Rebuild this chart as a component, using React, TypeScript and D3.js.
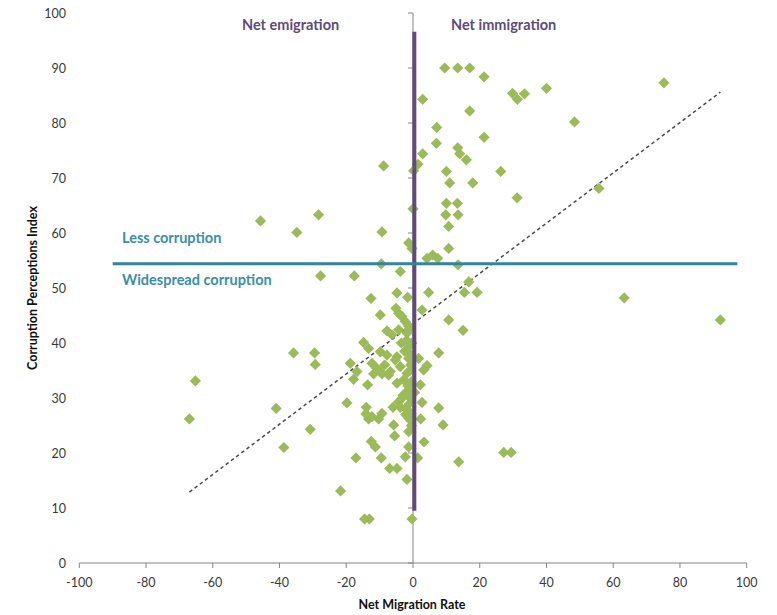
import React from "react";
import * as d3 from "d3";

// Net migration rate (x) and Corruption Perceptions Index (y)
const migration: number[] = [
  9.5, 13.4, 17, 21.3, 2.9, 17, 29.8, 31.3, 33.4, 40, 75.2, 48.4, 7.1, 7, 21.3, 13.4, 14, 16, 2.9, 1.5,
  0.2, 10, 26.3, 11, 17.9, 55.7, 31.2, 10, 13.3, 9.8, 13.5, 10.7, 0, 10.7, 4.2, 5.9, 7.4, 13.5, 16.7, 4.7,
  15.4, 19.2, 2.7, 10.7, 15, 7.7, 4.2, 3.2, 1.7, 2.2, 2.7, 7.7, 2.3, 9, 3.3, 1.4, 13.7, 27.2, 29.4, 63.3,
  92.1,
  -8.8, -9.3, -1.3, -0.3, -3.8, -9.5, -4.8, -1.6, -5.1, -4.3, -3.3, -2.3, -1.3, -1.3,
  -45.7, -28.3, -34.8, -27.7, -17.6, -12.6, -9.8, -35.8, -29.5, -29.3, -65.2, -67, -41, -19.8, -30.8,
  -38.7, -17.1, -21.7, -14.5, -13.1, -0.3,
  -7.8, -6.3, -4.3, -1.8, -14.8, -13.3, -9.8, -7.8, -4.8, -1.3, -1.3, -18.8, -16.8, -12.3, -9.8, -6.8,
  -3.8, -5.3, -1.8, -17.8, -11.8, -9.3, -7.3, -13.6, -4.8, -2.8, -1.3, -14, -12.3, -13.3, -9.3, -10.3,
  -6, -4.3, -2.3, -1.3, -5.8, -5.5, -1.3, -12.5, -11.3, -9.5, -7, -4.8, -2.3, -1.3, -1.8, -14.1, -3.8,
  -0.6, -0.8, -0.5, -0.7, -0.4, -1, 0.5, -0.5, -2.5, -3, -0.9,
  -2, -1.5, -3.2, -2.2, -0.8, -1.9, -3.5, -11, -8.5,
];
const cpi: number[] = [
  90, 90, 90, 88.4, 84.3, 82.2, 85.4, 84.3, 85.3, 86.3, 87.3, 80.2, 79.2, 76.3, 77.4, 75.5, 74.4, 73.3, 74.4, 72.5,
  71.3, 71.2, 71.2, 69.1, 69.1, 68.1, 66.4, 65.4, 65.4, 63.3, 63.3, 61.2, 64.4, 57.2, 55.4, 56, 55.4, 54.2, 51.1, 49.2,
  49.2, 49.2, 46, 44.2, 42.3, 38.2, 35.9, 35.1, 37.2, 32.4, 29.2, 28.2, 26.2, 25.1, 22, 19.1, 18.4, 20.1, 20.1, 48.2,
  44.2,
  72.2, 60.2, 58.2, 57.2, 53, 54.4, 49.1, 48.3, 46.3, 45.4, 44.8, 43.9, 43.1, 42.4,
  62.2, 63.3, 60.1, 52.2, 52.2, 48.1, 45.1, 38.2, 38.2, 36.1, 33.1, 26.2, 28.1, 29.1, 24.3,
  21, 19.1, 13.1, 8, 8, 8,
  42.2, 41.5, 42.4, 41.8, 40.1, 39, 38.4, 37.8, 37.5, 39.3, 37.2, 36.3, 34.8, 36.3, 34.8, 34.8,
  35.7, 36.9, 34.5, 33.4, 34.4, 34.4, 34.2, 32.4, 32.7, 33.3, 31.5, 28.3, 26.6, 26.2, 27.2, 26.2,
  28.3, 29.3, 28.1, 26.3, 25.1, 23.1, 23.9, 22.1, 21.1, 19.1, 17.2, 17.2, 19.3, 21.1, 15.2, 27.1, 28.3,
  27.2, 30, 33, 36, 40, 29, 31, 25, 38.5, 30.5, 35,
  31, 32.2, 30, 27, 38, 40.5, 40, 35.5, 36,
];

const xTicks: number[] = [-100, -80, -60, -40, -20, 0, 20, 40, 60, 80, 100];
const yTicks: number[] = [0, 10, 20, 30, 40, 50, 60, 70, 80, 90, 100];

// Linear trendline endpoints (span of the data)
const trendX: number[] = [-67, 92.1];
const trendY: number[] = [12.9, 85.6];

// Reference lines
const migrationDivider = { x: 0.4, y0: 9.5, y1: 96.6 };
const corruptionDivider = { y: 54.4, x0: -90, x1: 97.2 };

const W = 777;
const H = 615;

export default function App() {
  const x = d3.scaleLinear().domain([-100, 100]).range([79.3, 746.7]);
  const y = d3.scaleLinear().domain([0, 100]).range([563, 13]);
  const font = "Lato, 'Open Sans', sans-serif";
  const axisColor = "#868686";
  const labelColor = "#3a3a3a";
  const purple = "#604a7b";
  const teal = "#31849b";
  const diamond = (cx: number, cy: number, r: number) =>
    `M${cx},${cy - r}L${cx + r},${cy}L${cx},${cy + r}L${cx - r},${cy}Z`;
  const trendLine = d3.line<number>()
    .x((d, i) => x(trendX[i]))
    .y((d, i) => y(trendY[i]));

  return (
    <div style={{ position: "absolute", left: 0, top: 0 }}>
      <svg width={W} height={H} style={{ display: "block", background: "#fff" }}>
        {/* X axis */}
        <line x1={x(-100)} x2={x(100)} y1={y(0)} y2={y(0)} stroke={axisColor} strokeWidth={1} />
        {xTicks.map((t) => (
          <g key={"xt" + t}>
            <line x1={x(t)} x2={x(t)} y1={y(0)} y2={y(0) + 5} stroke={axisColor} />
            <text x={x(t)} y={y(0) + 24} textAnchor="middle" fontFamily={font} fontSize={12.5} fill={labelColor}>
              {t}
            </text>
          </g>
        ))}
        {/* Y axis at x = 0 */}
        <line x1={x(0)} x2={x(0)} y1={y(0)} y2={y(100)} stroke={axisColor} strokeWidth={1} />
        {yTicks.map((t) => (
          <g key={"yt" + t}>
            <line x1={x(0) - 5} x2={x(0)} y1={y(t)} y2={y(t)} stroke={axisColor} />
            <text x={66} y={y(t) + 4.5} textAnchor="end" fontFamily={font} fontSize={12.5} fill={labelColor}>
              {t}
            </text>
          </g>
        ))}

        {/* Trendline */}
        <path d={trendLine(trendX) || ""} fill="none" stroke="#4a4a4a" strokeWidth={1.5} strokeDasharray="3.5,3" />

        {/* Points */}
        {migration.map((m, i) => (
          <path key={"p" + i} d={diamond(x(m), y(cpi[i]), 5.6)} fill="#9bbb59" />
        ))}

        {/* Reference lines */}
        <line
          x1={x(migrationDivider.x)} x2={x(migrationDivider.x)}
          y1={y(migrationDivider.y0)} y2={y(migrationDivider.y1)}
          stroke={purple} strokeWidth={4}
        />
        <line
          x1={x(corruptionDivider.x0)} x2={x(corruptionDivider.x1)}
          y1={y(corruptionDivider.y)} y2={y(corruptionDivider.y)}
          stroke={teal} strokeWidth={3}
        />

        {/* Annotations */}
        <text x={242} y={30} fontFamily={font} fontWeight="bold" fontSize={14.5} fill={purple}>Net emigration</text>
        <text x={451} y={30} fontFamily={font} fontWeight="bold" fontSize={14.5} fill={purple}>Net immigration</text>
        <text x={122} y={243} fontFamily={font} fontWeight="bold" fontSize={14.5} fill="#3a8fa8">Less corruption</text>
        <text x={122} y={285} fontFamily={font} fontWeight="bold" fontSize={14.5} fill="#3a8fa8">Widespread corruption</text>

        {/* Axis titles */}
        <text x={412} y={609} textAnchor="middle" fontFamily={font} fontWeight="bold" fontSize={12.5} fill="#111">
          Net Migration Rate
        </text>
        <text
          transform={`translate(37,288) rotate(-90)`}
          textAnchor="middle" fontFamily={font} fontWeight="bold" fontSize={12.5} fill="#111"
        >
          Corruption Perceptions Index
        </text>
      </svg>
    </div>
  );
}
